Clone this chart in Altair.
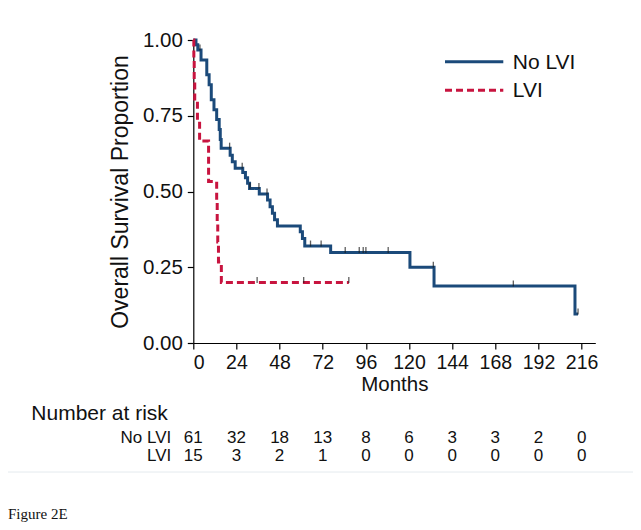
import altair as alt
import pandas as pd

# ---------------- data ----------------
groups = ["No LVI", "LVI"]
colors = ["#1b4a7a", "#c8143f"]

# Kaplan-Meier step points (months, survival proportion)
no_lvi_t = [0, 1.5, 2.5, 4.3, 7.5, 8.8, 10.0, 11.5, 13.0, 14.4, 15.0, 15.5, 20.5, 21.7,
            23.3, 27.5, 29.0, 30.2, 31.3, 36.7, 41.3, 42.7, 44.0, 45.2, 46.8, 59.5,
            60.7, 62.0, 76.4, 120.5, 133.9, 212.3, 214.0]
no_lvi_s = [1.0, 0.984, 0.967, 0.934, 0.885, 0.852, 0.803, 0.77, 0.738, 0.705, 0.672,
            0.643, 0.62, 0.598, 0.577, 0.563, 0.545, 0.527, 0.51, 0.492, 0.472, 0.45,
            0.428, 0.407, 0.386, 0.367, 0.345, 0.32, 0.299, 0.25, 0.188, 0.096, 0.096]

lvi_t = [0, 0.3, 0.5, 0.8, 2.3, 3.5, 8.5, 13.0, 13.3, 13.6, 14.0, 15.6, 86.5]
lvi_s = [1.0, 0.933, 0.867, 0.8, 0.733, 0.667, 0.533, 0.467, 0.4, 0.333, 0.267, 0.2, 0.2]

# censoring marks (months)
no_lvi_cens = [3.7, 20.2, 27.2, 31.5, 36.5, 41.0, 65.2, 71.1, 84.5, 92.3, 94.5, 96.0,
               108.4, 133.5, 178.0, 214.0]
lvi_cens = [35.5, 61.4, 86.5]

# number at risk table
risk_months = [0, 24, 48, 72, 96, 120, 144, 168, 192, 216]
risk_no_lvi = [61, 32, 18, 13, 8, 6, 3, 3, 2, 0]
risk_lvi = [15, 3, 2, 1, 0, 0, 0, 0, 0, 0]

x_ticks = risk_months
y_ticks = [0, 0.25, 0.5, 0.75, 1.0]

# ---------------- build tables ----------------
def surv_at(ts, ss, t):
    val = ss[0]
    for ti, si in zip(ts, ss):
        if ti <= t:
            val = si
    return val

curve_rows = []
for g, ts, ss in [("No LVI", no_lvi_t, no_lvi_s), ("LVI", lvi_t, lvi_s)]:
    for t, s in zip(ts, ss):
        curve_rows.append({"group": g, "t": t, "s": s})
curves = pd.DataFrame(curve_rows)

cens_rows = []
for g, ts, ss, cs in [("No LVI", no_lvi_t, no_lvi_s, no_lvi_cens),
                      ("LVI", lvi_t, lvi_s, lvi_cens)]:
    for c in cs:
        cens_rows.append({"group": g, "t": c, "s": surv_at(ts, ss, c)})
cens = pd.DataFrame(cens_rows)

risk_rows = []
for g, ns in [("No LVI", risk_no_lvi), ("LVI", risk_lvi)]:
    for m, n in zip(risk_months, ns):
        risk_rows.append({"group": g, "t": m, "n": str(n)})
risk = pd.DataFrame(risk_rows)
row_labels = pd.DataFrame({"group": groups, "t": [0, 0]})
legend_df = pd.DataFrame({"group": groups})

FONT = "Liberation Sans, Arial, Helvetica, sans-serif"
W, H = 402, 303

xscale = alt.Scale(domain=[0, 223.6], nice=False, zero=False)
yscale = alt.Scale(domain=[0, 1], nice=False)
cscale = alt.Scale(domain=groups, range=colors)
dscale = alt.Scale(domain=groups, range=[[1, 0], [7, 4]])

x_axis = alt.Axis(values=x_ticks, title="Months", grid=False,
                  labelFontSize=19.5, labelBaseline="alphabetic",
                  labelPadding=19.5, tickSize=6,
                  titleFontSize=20.5, titleX=W / 2, titleY=47.5,
                  titleBaseline="alphabetic", titleAlign="center")
y_axis = alt.Axis(values=y_ticks, format=".2f", title="Overall Survival Proportion",
                  grid=False, labelFontSize=20.5, labelPadding=5, tickSize=6,
                  titleFontSize=23, titleX=-73, titleY=H / 2, titleAngle=270,
                  titleAlign="center", titleBaseline="middle")

x_enc = alt.X("t:Q", scale=xscale, axis=x_axis)
y_enc = alt.Y("s:Q", scale=yscale, axis=y_axis)
color_enc = alt.Color("group:N", scale=cscale, legend=None)
dash_enc = alt.StrokeDash("group:N", scale=dscale, legend=None)

lines = alt.Chart(curves).mark_line(interpolate="step-after", strokeWidth=3).encode(
    x=x_enc, y=y_enc, color=color_enc, strokeDash=dash_enc)

ticks = alt.Chart(cens).mark_tick(orient="vertical", size=6, thickness=1.3,
                                  yOffset=-2.5, color="#1a1a1a").encode(
    x=x_enc, y=y_enc)

main = alt.layer(lines, ticks)

# legend (drawn as marks, rows placed by a point scale)
leg_y = alt.Y("group:N", scale=alt.Scale(type="point", domain=groups,
                                         range=[21.7, 50.3], padding=0), axis=None)
leg_lines = alt.Chart(legend_df).mark_rule(strokeWidth=3).encode(
    x=alt.value(251.7), x2=alt.value(310), y=leg_y, color=color_enc, strokeDash=dash_enc)
leg_text = alt.Chart(legend_df).mark_text(fontSize=21, font=FONT, color="#111111",
                                          align="left", baseline="middle", dy=1).encode(
    x=alt.value(319.5), y=leg_y, text="group:N")
legend = alt.layer(leg_lines, leg_text)

# number-at-risk table
row_y = alt.Y("group:N", scale=alt.Scale(type="point", domain=groups,
                                         range=[397.5, 416], padding=0), axis=None)

risk_text = alt.Chart(risk).mark_text(fontSize=17, font=FONT, color="#111111",
                                      baseline="middle", align="center").encode(
    x=x_enc, y=row_y, text="n:N")

risk_labels = alt.Chart(row_labels).mark_text(fontSize=17, font=FONT, color="#111111",
                                              baseline="middle", align="right",
                                              dx=-22).encode(
    x=x_enc, y=row_y, text="group:N")

risk_title = alt.Chart(pd.DataFrame({"txt": ["Number at risk"]})).mark_text(
    fontSize=21, font=FONT, color="#111111", align="left", baseline="alphabetic").encode(
    x=alt.value(-162), y=alt.value(380), text="txt:N")

sep = alt.Chart(pd.DataFrame({"a": [0]})).mark_rule(color="#e4eaee", strokeWidth=1).encode(
    x=alt.value(-185.3), x2=alt.value(439.7), y=alt.value(432))

caption = alt.Chart(pd.DataFrame({"txt": ["Figure 2E"]})).mark_text(
    fontSize=15, font="Liberation Serif, Times New Roman, serif", color="#111111",
    align="left", baseline="alphabetic").encode(
    x=alt.value(-185.3), y=alt.value(478.5), text="txt:N")

table = alt.layer(risk_text, risk_labels)

chart = alt.layer(main, legend, table, risk_title, sep, caption).resolve_scale(
    y="independent"
).properties(
    width=W, height=H,
    autosize=alt.AutoSizeParams(type="none"),
    padding={"left": 185.3, "top": 32, "right": 37.7, "bottom": 179},
).configure_view(stroke=None).configure_axis(
    domainColor="#000000", tickColor="#000000", labelColor="#111111",
    titleColor="#111111", labelFont=FONT, titleFont=FONT, titleFontWeight="normal",
    domainWidth=1.2, tickWidth=1.2,
)

chart.save("out.html", embed_options={"renderer": "svg", "actions": False})
